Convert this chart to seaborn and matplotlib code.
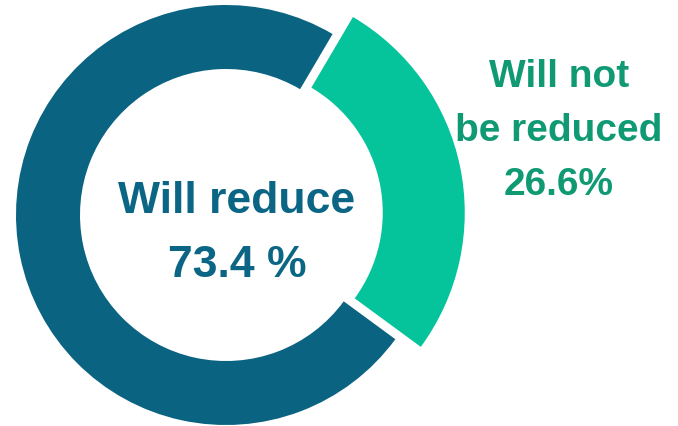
import matplotlib.pyplot as plt
import seaborn as sns

labels = ["Will not be reduced", "Will reduce"]
shares = [26.6, 73.4]
colors = ["#05c39a", "#0a6381"]
center_lines = ["Will reduce", "73.4 %"]
side_lines = ["Will not", "be reduced", "26.6%"]

sns.set_theme(style="white")
plt.rcParams["font.family"] = ["Liberation Sans", "DejaVu Sans"]

fig = plt.figure(figsize=(6.78, 4.26), dpi=100)
ax = fig.add_axes([0, 0, 1, 1])

# donut in pixel-like units; y axis is flipped, so angles run the other way
wedges, _ = ax.pie(
    shares,
    colors=colors,
    startangle=-59.5,
    counterclock=True,
    center=(226, 215),
    radius=210,
    explode=[12, 0],
    wedgeprops=dict(width=64, linewidth=0),
    frame=True,
)
# the highlighted slice is drawn bigger and thicker
wedges[0].set_radius(227)
wedges[0].set_width(82)

ax.set_xlim(0, 678)
ax.set_ylim(426, 0)
ax.set_aspect("equal")
ax.axis("off")

for txt, y in zip(center_lines, [213, 277]):
    ax.text(237, y, txt, ha="center", va="baseline", fontsize=32,
            fontweight="bold", color="#0b6584")

for txt, y in zip(side_lines, [87, 141, 195]):
    ax.text(559, y, txt, ha="center", va="baseline", fontsize=28,
            fontweight="bold", color="#109a74")

fig.savefig("out.png", dpi=100)
